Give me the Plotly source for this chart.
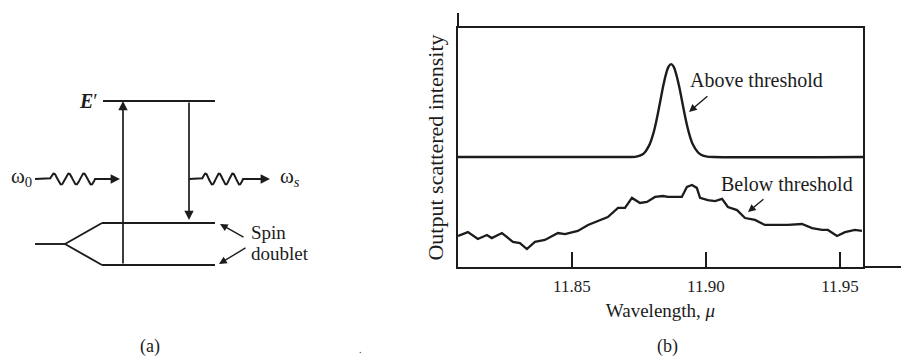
import numpy as np
import plotly.graph_objects as go

INK = "#1c1c1c"
SERIF = "Liberation Serif"

# ---------------- panel (b) data ----------------
tick_vals = [11.85, 11.90, 11.95]
tick_text = ["11.85", "11.90", "11.95"]

above_wl = [11.8075, 11.871, 11.874, 11.876, 11.877, 11.879, 11.880, 11.881, 11.882,
            11.883, 11.884, 11.885, 11.886, 11.887, 11.888, 11.889, 11.890, 11.891,
            11.892, 11.893, 11.894, 11.895, 11.897, 11.898, 11.900, 11.903, 11.9586]
above_int = [4.60, 4.60, 4.62, 4.69, 4.77, 5.13, 5.44, 5.86, 6.38,
             6.96, 7.54, 8.03, 8.37, 8.49, 8.37, 8.03, 7.56, 7.00,
             6.42, 5.90, 5.48, 5.16, 4.80, 4.71, 4.63, 4.60, 4.60]

below_wl = [11.8075, 11.8112, 11.8149, 11.8183, 11.8201, 11.8239, 11.8280, 11.8306,
            11.8332, 11.8362, 11.8399, 11.8448, 11.8474, 11.8522, 11.8560, 11.8597,
            11.8634, 11.8672, 11.8698, 11.8724, 11.8754, 11.8780, 11.8810, 11.8840,
            11.8858, 11.8910, 11.8929, 11.8948, 11.8966, 11.8978, 11.9007, 11.9034,
            11.9060, 11.9082, 11.9116, 11.9146, 11.9183, 11.9220, 11.9257, 11.9306,
            11.9358, 11.9396, 11.9433, 11.9455, 11.9489, 11.9519, 11.9556, 11.9582]
below_int = [1.30, 1.46, 1.17, 1.34, 1.21, 1.42, 1.05, 1.00,
             0.75, 1.05, 1.13, 1.42, 1.38, 1.51, 1.76, 1.92,
             2.09, 2.47, 2.47, 2.89, 2.68, 2.72, 2.93, 2.97,
             2.93, 2.93, 3.35, 3.43, 3.31, 2.89, 2.80, 2.76,
             2.85, 2.51, 2.38, 2.05, 1.97, 1.76, 1.76, 1.76,
             1.80, 1.63, 1.55, 1.55, 1.30, 1.46, 1.55, 1.51]

# ---------------- panel (a) diagram (drawing units = px of the figure) ----------------
level_names = ["E'", "doublet upper", "doublet lower", "ground"]
level_y = [101, 223, 265, 244]
level_x0 = [103, 102, 102, 35]
level_x1 = [215, 215, 215, 65]
fork_x = [102, 65, 102]
fork_y = [223, 244, 265]
photon_y = 179
incident_x = [35, 50, 95, 120]      # line start, wave start, wave end, arrow tip
scattered_x = [189, 202, 243, 270]
up_arrow = (123, 265, 101)           # x, from y, to y
down_arrow = (189, 101, 220)

fig = go.Figure()

# spectra
fig.add_trace(go.Scatter(x=above_wl, y=above_int, mode="lines",
                         line=dict(color=INK, width=2.4, shape="spline", smoothing=0.6),
                         hoverinfo="skip", showlegend=False))
fig.add_trace(go.Scatter(x=below_wl, y=below_int, mode="lines",
                         line=dict(color=INK, width=2.3),
                         hoverinfo="skip", showlegend=False))

# diagram levels
lx, ly = [], []
for x0, x1, y in zip(level_x0, level_x1, level_y):
    lx += [x0, x1, None]
    ly += [y, y, None]
lx += fork_x
ly += fork_y
fig.add_trace(go.Scatter(x=lx, y=ly, mode="lines", line=dict(color=INK, width=1.9),
                         xaxis="x2", yaxis="y2", hoverinfo="skip", showlegend=False))


def photon(xs, y, periods=3, amp=5.5):
    x_start, w0, w1, tip = xs
    t = np.linspace(w0, w1, 150)
    wave = y - amp * np.sin(2 * np.pi * periods * (t - w0) / (w1 - w0))
    px = [x_start] + list(t) + [tip - 6]
    py = [y] + list(wave) + [y]
    return px, py


for xs in (incident_x, scattered_x):
    px, py = photon(xs, photon_y)
    fig.add_trace(go.Scatter(x=px, y=py, mode="lines", line=dict(color=INK, width=2.0),
                             xaxis="x2", yaxis="y2", hoverinfo="skip", showlegend=False))

annotations = []


def arrow(tip, tail, ref=("x2", "y2"), size=1.1, width=1.7):
    annotations.append(dict(x=tip[0], y=tip[1], ax=tail[0], ay=tail[1],
                            xref=ref[0], yref=ref[1], axref=ref[0], ayref=ref[1],
                            text="", showarrow=True, arrowhead=2, arrowsize=size,
                            arrowwidth=width, arrowcolor=INK, standoff=0, startstandoff=0))


arrow((up_arrow[0], up_arrow[2]), (up_arrow[0], up_arrow[1]))
arrow((down_arrow[0], down_arrow[2]), (down_arrow[0], down_arrow[1]))
arrow((incident_x[3], photon_y), (incident_x[2] + 2, photon_y))
arrow((scattered_x[3], photon_y), (scattered_x[2] + 2, photon_y))
arrow((220, 224), (245, 238), width=1.4)
arrow((219, 264), (247, 247), width=1.4)

# arrows in panel (b)
arrow((11.8937, 6.49), (11.9011, 7.20), ref=("x", "y"), width=1.4)
arrow((11.9157, 2.30), (11.9220, 2.89), ref=("x", "y"), width=1.4)


def text(x, y, s, size=19, ref=("x2", "y2"), xanchor="center"):
    annotations.append(dict(x=x, y=y, xref=ref[0], yref=ref[1], text=s, showarrow=False,
                            xanchor=xanchor, yanchor="middle",
                            font=dict(family=SERIF, size=size, color=INK)))


text(88, 101, "<i><b>E</b></i>′", size=20)
text(21, 177, "ω<sub>0</sub>", size=21)
text(290, 177, "ω<sub><i>s</i></sub>", size=21)
text(249, 232, "Spin", size=19, xanchor="left")
text(249, 253, "doublet", size=19, xanchor="left")
text(150, 346, "(a)", size=18)
text(360, 349, ".", size=10)
text(667, 346, "(b)", size=18)
text(11.9190, 7.82, "Above threshold", size=20, ref=("x", "y"))
text(11.9302, 3.47, "Below threshold", size=20, ref=("x", "y"))

W, H = 901, 356
shapes = [
    dict(type="line", xref="paper", yref="paper", x0=863 / W, x1=1.0, y0=1 - 267 / H, y1=1 - 267 / H,
         line=dict(color=INK, width=2)),
    dict(type="line", xref="paper", yref="paper", x0=458 / W, x1=458 / W, y0=1 - 28 / H, y1=1 - 13 / H,
         line=dict(color=INK, width=2)),
]

fig.update_layout(
    width=W, height=H, margin=dict(l=0, r=0, t=0, b=0),
    paper_bgcolor="white", plot_bgcolor="rgba(0,0,0,0)",
    font=dict(family=SERIF, color=INK),
    xaxis=dict(domain=[458 / W, 863 / W], range=[11.8075, 11.9586], anchor="y",
               showline=True, mirror=True, linecolor=INK, linewidth=2,
               ticks="inside", ticklen=15, tickwidth=1.6, tickcolor=INK,
               tickvals=tick_vals, ticktext=tick_text, ticklabelstandoff=3,
               tickfont=dict(family=SERIF, size=17, color=INK),
               showgrid=False, zeroline=False,
               title=dict(text="Wavelength, <i>μ</i>", standoff=8,
                          font=dict(family=SERIF, size=19, color=INK))),
    yaxis=dict(domain=[1 - 267 / H, 1 - 28 / H], range=[0, 10], anchor="x",
               showline=True, mirror=True, linecolor=INK, linewidth=2,
               ticks="", showticklabels=False, showgrid=False, zeroline=False,
               title=dict(text="Output scattered intensity", standoff=6,
                          font=dict(family=SERIF, size=22, color=INK))),
    xaxis2=dict(domain=[0, 1], range=[0, W], visible=False, anchor="y2", fixedrange=True),
    yaxis2=dict(domain=[0, 1], range=[H, 0], visible=False, anchor="x2", fixedrange=True),
    annotations=annotations,
    shapes=shapes,
    showlegend=False,
)

fig.write_html("out.html", config={"displayModeBar": False},
               post_script="document.body.style.margin='0';")
